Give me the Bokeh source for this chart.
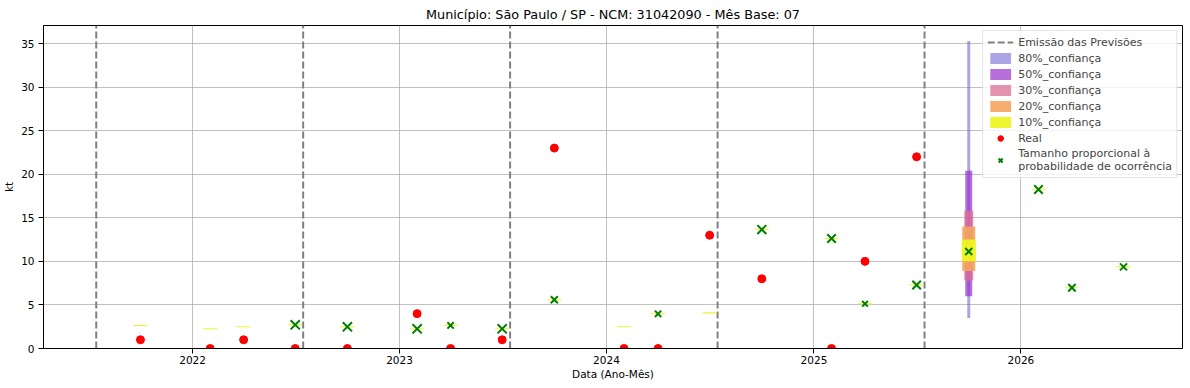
import pandas as pd
from bokeh.plotting import figure
from bokeh.models import Range1d, FixedTicker, Legend, LegendItem, ColumnDataSource, DatetimeTickFormatter
from bokeh.embed import file_html
from bokeh.resources import INLINE

# ---------------- data ----------------
forecast_dates = ["2021-10-01", "2022-02-01", "2022-04-01", "2022-07-01", "2022-10-01",
                  "2023-02-01", "2023-04-01", "2023-07-01", "2023-10-01", "2024-02-01",
                  "2024-04-01", "2024-07-01", "2024-10-01", "2025-02-01", "2025-04-01",
                  "2025-07-01", "2025-10-01", "2026-02-01", "2026-04-01", "2026-07-01"]
forecast_values = [2.64, 2.26, 2.49, 2.72, 2.49, 2.26, 2.64, 2.26, 5.59, 2.49,
                   3.98, 4.09, 13.65, 12.62, 5.13, 7.29, 11.13, 18.24, 6.97, 9.37]
probability = [0.0, 0.0, 0.0, 0.93, 0.93, 0.93, 0.64, 0.93, 0.71, 0.0,
               0.64, 0.0, 0.90, 0.86, 0.57, 0.86, 0.71, 0.86, 0.75, 0.71]
# 10% confidence band (lower / upper) for every forecast date
band10_lower = [2.58, 2.20, 2.43, 2.66, 2.43, 2.20, 2.58, 2.20, 5.53, 2.43,
                3.92, 4.03, 13.59, 12.56, 5.07, 7.23, 10.0, 18.18, 6.91, 9.31]
band10_upper = [2.70, 2.32, 2.55, 2.78, 2.55, 2.32, 2.70, 2.32, 5.65, 2.55,
                4.04, 4.15, 13.71, 12.68, 5.19, 7.35, 12.5, 18.30, 7.03, 9.43]
# wider bands (only open for the current emission, Oct 2025)
wide_band_dates = ["2025-10-01"]
band80_lower = [3.5]
band80_upper = [35.3]
band50_lower = [6.0]
band50_upper = [20.4]
band30_lower = [7.8]
band30_upper = [15.8]
band20_lower = [8.9]
band20_upper = [14.0]

real_dates = forecast_dates[:16]
real_values = [1, 0, 1, 0, 0, 4, 0, 1, 23, 0, 0, 13, 8, 0, 10, 22]

emission_dates = ["2021-07-15", "2022-07-15", "2023-07-15", "2024-07-15", "2025-07-15"]
year_ticks = ["2022-01-01", "2023-01-01", "2024-01-01", "2025-01-01", "2026-01-01"]
y_ticks = [0, 5, 10, 15, 20, 25, 30, 35]

FONT = "DejaVu Sans"
FS = "10.5px"

def ts(lst):
    return pd.to_datetime(lst)

p = figure(frame_width=1139, frame_height=323, output_backend="svg", toolbar_location=None,
           x_axis_type="datetime",
           x_range=Range1d(pd.Timestamp("2021-04-13"), pd.Timestamp("2026-10-13")),
           y_range=Range1d(0, 37.07),
           min_border_left=0, min_border_right=1, min_border_top=0, min_border_bottom=0,
           title="Município: São Paulo / SP - NCM: 31042090 - Mês Base: 07")

p.title.align = "center"
p.title.text_font = FONT
p.title.text_font_size = "12.8px"
p.title.text_font_style = "normal"
p.title.text_color = "black"
p.title.standoff = 8

p.outline_line_color = "black"
p.outline_line_width = 1
p.background_fill_color = "white"
p.border_fill_color = "white"

xt = [int(t.value // 10**6) for t in ts(year_ticks)]
p.xaxis.ticker = FixedTicker(ticks=xt)
p.xaxis.formatter = DatetimeTickFormatter(years="%Y", months="%Y", days="%Y")
p.yaxis.ticker = FixedTicker(ticks=y_ticks)
p.xgrid.ticker = FixedTicker(ticks=xt)
p.ygrid.ticker = FixedTicker(ticks=y_ticks)
for g in (p.xgrid, p.ygrid):
    g.grid_line_color = "#b0b0b0"
    g.grid_line_width = 0.8

for ax in (p.xaxis, p.yaxis):
    ax.axis_line_color = "black"
    ax.major_tick_line_color = "black"
    ax.major_tick_out = 5
    ax.major_tick_in = 0
    ax.minor_tick_line_color = None
    ax.major_label_text_font = FONT
    ax.major_label_text_font_size = FS
    ax.major_label_text_color = "black"
    ax.axis_label_text_font = FONT
    ax.axis_label_text_font_size = FS
    ax.axis_label_text_font_style = "normal"
    ax.axis_label_text_color = "black"
p.xaxis.major_label_standoff = 2
p.xaxis.axis_label_standoff = 1
p.yaxis.major_label_standoff = 4
p.yaxis.axis_label_standoff = 3
p.xaxis.axis_label = "Data (Ano-Mês)"
p.yaxis.axis_label = "kt"

# emission lines
em = ts(emission_dates)
r_em = p.segment(x0=em, y0=[0] * len(em), x1=em, y1=[37.07] * len(em),
                 line_color="#808080", line_width=2, line_dash="7 3")

# bands
wd = ts(wide_band_dates)
def band(lo, hi, x, color, alpha, w):
    src = ColumnDataSource(dict(x=x, y=[(a + b) / 2 for a, b in zip(lo, hi)],
                                h=[b - a for a, b in zip(lo, hi)]))
    return p.rect(x="x", y="y", width=w, height="h", width_units="screen", source=src,
                  fill_color=color, fill_alpha=alpha, line_color=None)

r80 = band(band80_lower, band80_upper, wd, "#6a5acd", 0.55, 3)
r50 = band(band50_lower, band50_upper, wd, "#9932cc", 0.7, 7)
r30 = band(band30_lower, band30_upper, wd, "#db7093", 0.75, 9)
r20 = band(band20_lower, band20_upper, wd, "#f4a460", 0.9, 13)
r10 = band(band10_lower, band10_upper, ts(forecast_dates), "#eef522", 0.95, 14)

# real
r_real = p.scatter(x=ts(real_dates), y=real_values, marker="circle", size=8,
                   fill_color="red", line_color="red")

# forecast X, size proportional to probability
fsrc = ColumnDataSource(dict(x=ts(forecast_dates), y=forecast_values,
                             s=[pr * 14 for pr in probability]))
r_x = p.scatter(x="x", y="y", size="s", marker="x", line_color="green", line_width=2,
                source=fsrc)

legend = Legend(items=[
    LegendItem(label="Emissão das Previsões", renderers=[r_em]),
    LegendItem(label="80%_confiança", renderers=[r80]),
    LegendItem(label="50%_confiança", renderers=[r50]),
    LegendItem(label="30%_confiança", renderers=[r30]),
    LegendItem(label="20%_confiança", renderers=[r20]),
    LegendItem(label="10%_confiança", renderers=[r10]),
    LegendItem(label="Real", renderers=[r_real]),
    LegendItem(label="Tamanho proporcional à\nprobabilidade de ocorrência", renderers=[r_x]),
], location="top_right")
legend.label_text_font = FONT
legend.label_text_font_size = "11px"
legend.label_text_line_height = 1.0
legend.glyph_height = 14
legend.glyph_width = 26
legend.label_height = 14
legend.spacing = 2
legend.padding = 4
legend.margin = 5
legend.label_standoff = 5
legend.border_line_color = "#cccccc"
legend.border_line_width = 1
legend.background_fill_alpha = 0.8
p.add_layout(legend)

open("out.html", "w").write(file_html(p, INLINE))
